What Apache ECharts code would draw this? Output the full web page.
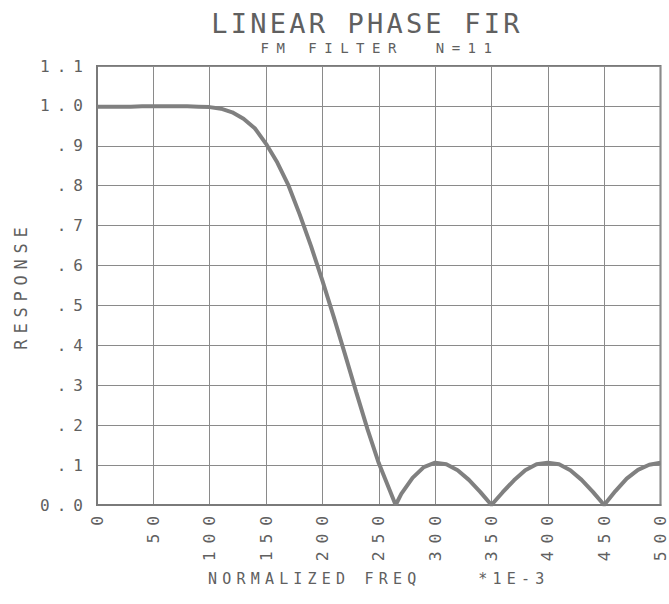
<!DOCTYPE html>
<html>
<head>
<meta charset="utf-8">
<script src="https://cdn.jsdelivr.net/npm/echarts@6/dist/echarts.min.js"></script>
<style>
  html, body { margin: 0; padding: 0; background: #fff; }
  #main { width: 669px; height: 604px; }
</style>
</head>
<body>
<div id="main"></div>
<script>
// ---- data ----
const titleText = 'LINEAR PHASE FIR';
const subtitleText = 'FM FILTER  N=11';
const xAxisName = 'NORMALIZED FREQ    *1E-3';
const yAxisName = 'RESPONSE';
const freq = [0,10,20,30,40,50,60,70,80,90,100,110,120,130,140,150,160,170,180,190,200,210,220,230,240,250,260,265,270,280,290,300,310,320,330,340,350,360,370,380,390,400,410,420,430,440,450,460,470,480,490,500];
const resp = [0.998,0.998,0.998,0.998,0.999,0.999,0.999,0.999,0.999,0.998,0.997,0.993,0.984,0.968,0.944,0.905,0.858,0.80,0.727,0.648,0.562,0.472,0.378,0.283,0.19,0.105,0.035,0.0,0.028,0.068,0.095,0.106,0.102,0.087,0.063,0.033,0.0,0.032,0.062,0.087,0.102,0.106,0.102,0.087,0.063,0.033,0.0,0.035,0.066,0.088,0.101,0.106];
const yTickLabels = ['0.0','.1','.2','.3','.4','.5','.6','.7','.8','.9','1.0','1.1'];

const FONT = 'DejaVu Sans Mono';
const TXT = '#606060';
const LINE = '#8a8a8a';
// font-size -> letter spacing (px)
const SPACING = {'27': 3.2, '14': 7.5, '16': 7, '16.5': 7.8, '15': 5.2, '17': 5.8};

const chart = echarts.init(document.getElementById('main'), null, {renderer: 'svg'});
const option = {
  animation: false,
  backgroundColor: '#fff',
  grid: {left: 97, right: 6, top: 66, bottom: 99, show: true, borderColor: '#7a7a7a', borderWidth: 2},
  graphic: [
    {type: 'text', x: 367, y: 23, style: {text: titleText, font: '27px "' + FONT + '"', fill: TXT, textAlign: 'center', textVerticalAlign: 'middle'}},
    {type: 'text', x: 380, y: 48, style: {text: subtitleText, font: '14px "' + FONT + '"', fill: TXT, textAlign: 'center', textVerticalAlign: 'middle'}}
  ],
  xAxis: {
    type: 'value', min: 0, max: 500, interval: 50,
    name: xAxisName, nameLocation: 'middle', nameGap: 74,
    nameTextStyle: {fontFamily: FONT, fontSize: 15, color: TXT, verticalAlign: 'middle'},
    axisLine: {show: true, lineStyle: {color: '#7a7a7a', width: 2}},
    axisTick: {show: false},
    axisLabel: {rotate: 90, margin: 3, fontFamily: FONT, fontSize: 16.5, color: TXT},
    splitLine: {show: true, lineStyle: {color: LINE, width: 1}}
  },
  yAxis: {
    type: 'value', min: 0, max: 1.1, interval: 0.1,
    name: yAxisName, nameLocation: 'middle', nameGap: 76,
    nameTextStyle: {fontFamily: FONT, fontSize: 17, color: TXT, verticalAlign: 'middle'},
    axisLine: {show: true, lineStyle: {color: '#7a7a7a', width: 2}},
    axisTick: {show: false},
    axisLabel: {margin: 7, fontFamily: FONT, fontSize: 16, color: TXT,
      formatter: v => yTickLabels[Math.round(v * 10)]},
    splitLine: {show: true, lineStyle: {color: LINE, width: 1}}
  },
  series: [{
    type: 'line',
    data: freq.map((f, i) => [f, resp[i]]),
    showSymbol: false,
    lineStyle: {color: '#808080', width: 4},
    z: 5
  }]
};
chart.setOption(option);

function applySpacing() {
  document.querySelectorAll('#main svg text').forEach(t => {
    const fs = String(parseFloat(getComputedStyle(t).fontSize));
    if (SPACING[fs] != null) t.style.letterSpacing = SPACING[fs] + 'px';
  });
}
applySpacing();
chart.on('finished', applySpacing);
setTimeout(applySpacing, 0);
</script>
</body>
</html>
